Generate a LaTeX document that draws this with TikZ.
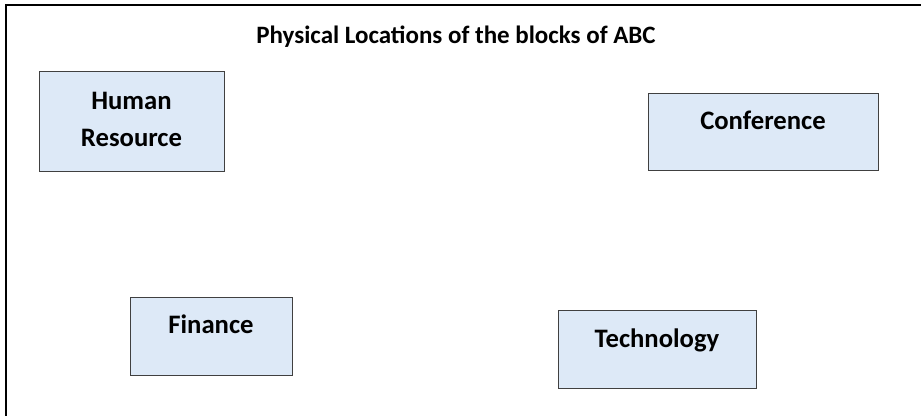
\documentclass[tikz,border=0pt]{standalone}
\usepackage{fontspec}
\setmainfont{Carlito}

\tikzset{every picture/.style={line width=0.75pt}}
\tikzset{
  blockbox/.style={draw=black!75, line width=1pt, fill={rgb,255:red,221;green,233;blue,247}, anchor=north west, inner sep=0pt},
  blocktext/.style={inner sep=0.75pt, font=\fontsize{20}{27.75}\selectfont\bfseries, align=center},
}

\begin{document}
\begin{tikzpicture}[x=0.75pt,y=0.75pt,yscale=-1,xscale=1]
        \useasboundingbox (0,0) rectangle (921,415);
        %Outer frame
        \draw [line width=1.5pt]  (6,420) -- (6,5) -- (925,5) ;

        % Title
        \node (title) [anchor=base][inner sep=0.75pt] [font=\fontsize{18.75}{22}\selectfont\bfseries] at (456,43) {Physical Locations of the blocks of ABC};

        %Shape: Rectangle
        \node (hrbox) [blockbox, minimum width=138.75pt, minimum height=75pt] at (39,71) {};
        %Shape: Rectangle
        \node (confbox) [blockbox, minimum width=172.5pt, minimum height=57.75pt] at (648,93) {};
        %Shape: Rectangle
        \node (finbox) [blockbox, minimum width=121.5pt, minimum height=58.5pt] at (130,297) {};
        %Shape: Rectangle
        \node (techbox) [blockbox, minimum width=148.5pt, minimum height=58.5pt] at (558,310) {};

        % Text Node
        \node (hr) [blocktext] at (131.5,119) {Human\\Resource};
        % Text Node
        \node (conf) [blocktext, anchor=base] at (763,129) {Conference};
        % Text Node
        \node (fin) [blocktext, anchor=base] at (211,333) {Finance};
        % Text Node
        \node (tech) [blocktext, anchor=base] at (657,347) {Technology};
\end{tikzpicture}
\end{document}
